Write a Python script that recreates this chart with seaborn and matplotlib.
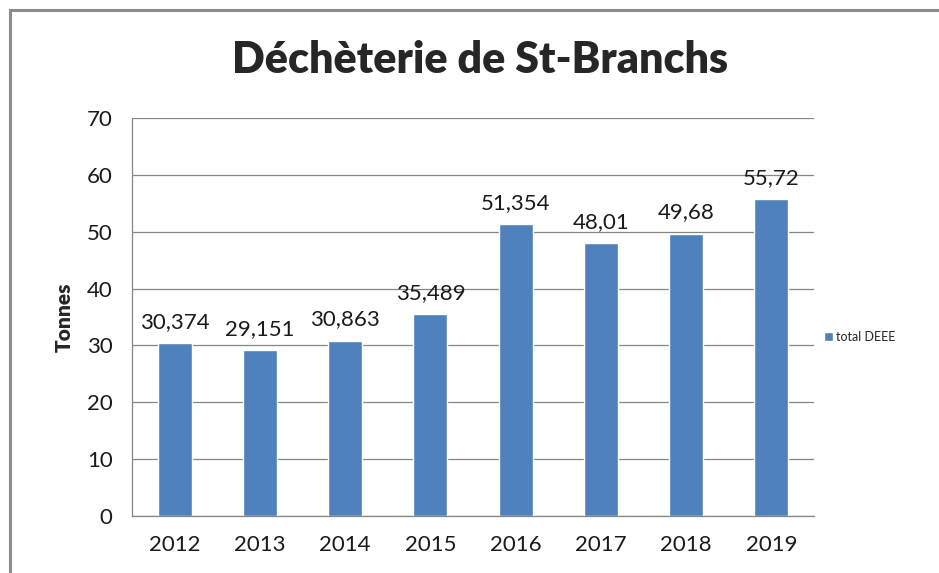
import matplotlib.pyplot as plt
import pandas as pd
import seaborn as sns
from matplotlib.patches import Rectangle

years = ["2012", "2013", "2014", "2015", "2016", "2017", "2018", "2019"]
tonnes = [30.374, 29.151, 30.863, 35.489, 51.354, 48.01, 49.68, 55.72]
value_labels = ["30,374", "29,151", "30,863", "35,489", "51,354", "48,01", "49,68", "55,72"]
series_name = "total DEEE"

BAR_COLOR = "#4F81BD"
GRID_COLOR = "#868686"


def main():
    df = pd.DataFrame({"Année": years, "Tonnes": tonnes, "Série": series_name})

    sns.set_style("white")
    plt.rcParams["font.family"] = ["Lato", "DejaVu Sans"]

    fig = plt.figure(figsize=(9.39, 5.73), dpi=100)
    ax = fig.add_axes([0.1406, 0.0995, 0.7263, 0.6945])

    sns.barplot(
        data=df, x="Année", y="Tonnes", hue="Série",
        palette=[BAR_COLOR], width=0.4, saturation=1, ax=ax
    )

    ax.set_ylim(0, 70)
    ax.set_yticks(range(0, 71, 10))
    ax.yaxis.grid(True, color=GRID_COLOR, linewidth=0.9)
    ax.set_axisbelow(True)
    for side in ["top", "right"]:
        ax.spines[side].set_visible(False)
    for side in ["left", "bottom"]:
        ax.spines[side].set_color(GRID_COLOR)
        ax.spines[side].set_linewidth(0.9)

    ax.tick_params(axis="y", length=8, color=GRID_COLOR, labelsize=16, pad=6)
    ax.tick_params(axis="x", length=0, labelsize=16, pad=14)
    for lbl in ax.get_xticklabels() + ax.get_yticklabels():
        lbl.set_color("#1a1a1a")

    ax.set_xlabel("")
    ax.set_ylabel("Tonnes", fontsize=15, fontweight="heavy", labelpad=9)

    ax.bar_label(ax.containers[0], labels=value_labels, padding=8,
                 fontsize=16, color="#1a1a1a")

    ax.legend(loc="center left", bbox_to_anchor=(0.998, 0.45), frameon=False,
              fontsize=9, handlelength=0.7, handleheight=0.7, handletextpad=0.3)

    fig.text(0.511, 1 - 60 / 573, "Déchèterie de St-Branchs",
             ha="center", va="center", fontsize=31, fontweight="heavy")

    fig.patches.append(Rectangle((10 / 939, -0.1), 1.2, 1 - 10 / 573 + 0.1,
                                 transform=fig.transFigure, fill=False,
                                 edgecolor="#8c8c8c", linewidth=2.2))

    fig.savefig("out.png", dpi=100)


if __name__ == "__main__":
    main()
